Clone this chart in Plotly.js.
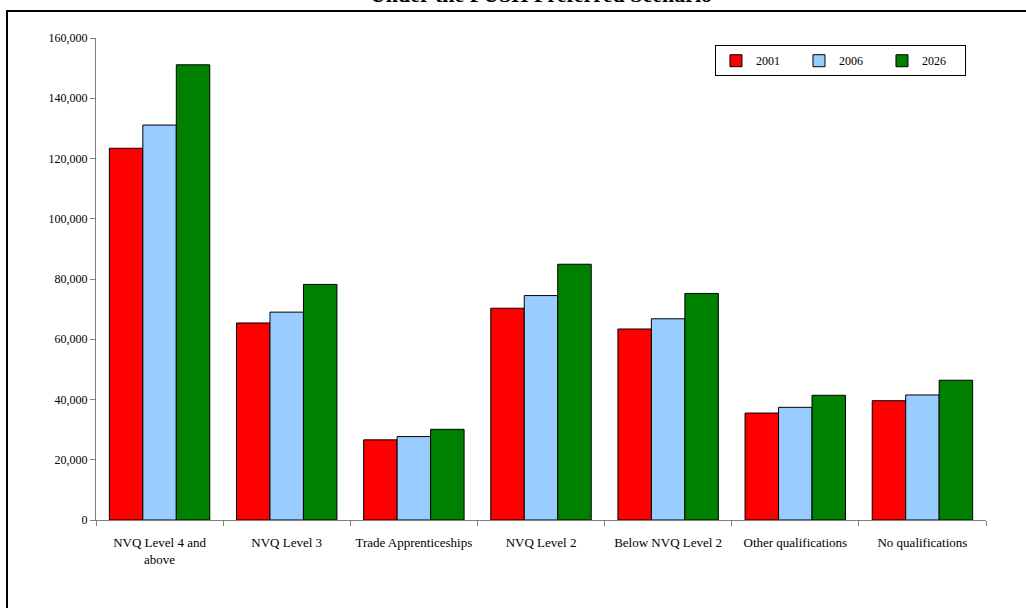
<!DOCTYPE html>
<html>
<head>
<meta charset="utf-8">
<script src="https://cdn.plot.ly/plotly-3.0.1.min.js"></script>
<style>
  html, body { margin: 0; padding: 0; background: #fff; overflow: hidden; }
  #frame { position: absolute; left: 6px; top: 10px; width: 1200px; height: 800px;
           border-left: 2px solid #000; border-top: 2px solid #000; }
  #chart { position: absolute; left: 0; top: 0; width: 1026px; height: 608px; }
</style>
</head>
<body>
<div id="frame"></div>
<div id="chart"></div>
<script>
const categories = ["NVQ Level 4 and<br>above", "NVQ Level 3", "Trade Apprenticeships", "NVQ Level 2",
                    "Below NVQ Level 2", "Other qualifications", "No qualifications"];
const seriesNames = ["2001", "2006", "2026"];
const values2001 = [123400, 65400, 26600, 70300, 63400, 35500, 39600];
const values2006 = [131100, 69000, 27700, 74500, 66800, 37400, 41500];
const values2026 = [151100, 78200, 30100, 84900, 75200, 41400, 46400];
const colors = ["#FF0000", "#99CCFF", "#008000"];

const allValues = [values2001, values2006, values2026];
const traces = seriesNames.map((name, i) => ({
  type: "bar",
  name: name,
  x: categories,
  y: allValues[i],
  marker: { color: colors[i], line: { color: "#000", width: 1 } },
  hoverinfo: "x+y+name"
}));

const serif = "'Liberation Serif', 'Times New Roman', serif";
const layout = {
  width: 1026, height: 608,
  margin: { l: 96, r: 40, t: 38, b: 88 },
  paper_bgcolor: "rgba(0,0,0,0)",
  plot_bgcolor: "rgba(0,0,0,0)",
  font: { family: serif, size: 12, color: "#000" },
  title: {
    text: "<b>Under the PUSH Preferred Scenario</b>",
    font: { family: serif, size: 22, color: "#000" },
    xref: "paper", x: 0.5, xanchor: "center",
    yref: "container", y: 0.996, yanchor: "bottom"
  },
  barmode: "group",
  bargap: 0.21,
  bargroupgap: 0,
  showlegend: true,
  legend: {
    orientation: "h",
    x: 0.9775, xanchor: "right",
    y: 0.985, yanchor: "top",
    bordercolor: "#000", borderwidth: 1,
    bgcolor: "#fff",
    font: { family: serif, size: 12 },
    entrywidth: 38, entrywidthmode: "pixels",
    itemwidth: 30,
    traceorder: "normal"
  },
  xaxis: {
    type: "category",
    showline: true, linecolor: "#808080", linewidth: 1,
    ticks: "outside", tickson: "boundaries", ticklen: 5, tickcolor: "#808080",
    showgrid: false,
    tickangle: 0,
    ticklabelstandoff: 10,
    tickfont: { family: serif, size: 13 },
    automargin: false
  },
  yaxis: {
    range: [0, 160000], dtick: 20000, tick0: 0,
    tickformat: ",d",
    showline: true, linecolor: "#808080", linewidth: 1,
    ticks: "outside", ticklen: 5, tickcolor: "#808080",
    showgrid: false, zeroline: false,
    tickfont: { family: serif, size: 12 },
    automargin: false
  }
};

Plotly.newPlot("chart", traces, layout, { displayModeBar: false, staticPlot: false });
</script>
</body>
</html>
